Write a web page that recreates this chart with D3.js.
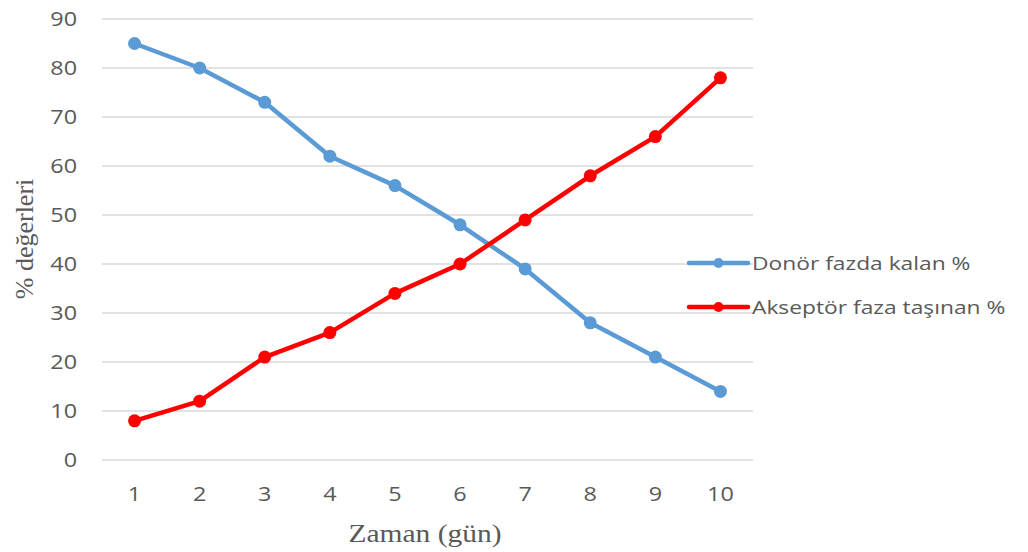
<!DOCTYPE html>
<html>
<head>
<meta charset="utf-8">
<script src="https://cdn.jsdelivr.net/npm/d3@7"></script>
<style>
  html, body { margin: 0; padding: 0; background: #fff; }
  svg { display: block; }
</style>
</head>
<body>
<svg id="chart" width="1028" height="552"></svg>
<script>
// Days of measurement
const days = [1, 2, 3, 4, 5, 6, 7, 8, 9, 10];
// Percentage remaining in the donor phase
const donorValues = [85, 80, 73, 62, 56, 48, 39, 28, 21, 14];
// Percentage transported to the acceptor phase
const acceptorValues = [8, 12, 21, 26, 34, 40, 49, 58, 66, 78];
// Y axis ticks
const yTicks = [0, 10, 20, 30, 40, 50, 60, 70, 80, 90];
const seriesNames = ["Donör fazda kalan %", "Akseptör faza taşınan %"];
const seriesColors = ["#5B9BD5", "#FF0000"];

const svg = d3.select("#chart");
const plot = { left: 102, right: 753, top: 19, bottom: 460 };

const x = d3.scaleBand().domain(days).range([plot.left, plot.right]);
const y = d3.scaleLinear().domain([0, 90]).range([plot.bottom, plot.top]);

const labelFont = "'Open Sans', 'Noto Sans', sans-serif";
const serifFont = "'Liberation Serif', 'Times New Roman', serif";
const grey = "#595959";
const wide = "scale(1.17,1)";

// Horizontal gridlines
svg.append("g")
  .selectAll("line")
  .data(yTicks)
  .join("line")
  .attr("x1", plot.left).attr("x2", plot.right)
  .attr("y1", d => y(d)).attr("y2", d => y(d))
  .attr("stroke", "#d9d9d9").attr("stroke-width", 1.3);

// Y tick labels
const yAxis = d3.axisLeft(y).tickValues(yTicks).tickSize(0).tickPadding(0);
const gy = svg.append("g").attr("transform", "translate(77,0)").call(yAxis);
gy.select(".domain").remove();
gy.selectAll("text")
  .attr("font-family", labelFont).attr("font-size", 20).attr("fill", grey)
  .attr("transform", wide);

// X tick labels
const xAxis = d3.axisBottom(x).tickSize(0).tickPadding(0);
const gx = svg.append("g").attr("transform", "translate(0,487)").call(xAxis);
gx.select(".domain").remove();
gx.selectAll("text")
  .attr("font-family", labelFont).attr("font-size", 20).attr("fill", grey)
  .attr("transform", wide);

// Axis titles
svg.append("g").attr("transform", "translate(425,542) scale(1.18,1)")
  .append("text")
  .attr("text-anchor", "middle")
  .attr("font-family", serifFont)
  .attr("font-size", 25).attr("fill", grey)
  .text("Zaman (gün)");

svg.append("text")
  .attr("transform", "translate(33,239) rotate(-90)")
  .attr("text-anchor", "middle")
  .attr("font-family", serifFont)
  .attr("font-size", 26).attr("fill", grey)
  .text("% değerleri");

// Series lines and markers
const series = [donorValues, acceptorValues];
const line = d3.line()
  .x((d, i) => x(days[i]) + x.bandwidth() / 2)
  .y(d => y(d));

series.forEach((vals, s) => {
  const g = svg.append("g");
  g.append("path")
    .datum(vals)
    .attr("d", line)
    .attr("fill", "none")
    .attr("stroke", seriesColors[s])
    .attr("stroke-width", 4.5)
    .attr("stroke-linejoin", "round")
    .attr("stroke-linecap", "round");
  g.selectAll("circle")
    .data(vals)
    .join("circle")
    .attr("cx", (d, i) => x(days[i]) + x.bandwidth() / 2)
    .attr("cy", d => y(d))
    .attr("r", 6.5)
    .attr("fill", seriesColors[s]);
});

// Legend
const legendY = [263, 307];
seriesNames.forEach((name, s) => {
  const g = svg.append("g").attr("transform", `translate(0,${legendY[s]})`);
  g.append("line")
    .attr("x1", 689).attr("x2", 748)
    .attr("stroke", seriesColors[s]).attr("stroke-width", 4.5)
    .attr("stroke-linecap", "round");
  g.append("circle").attr("cx", 718.5).attr("cy", 0).attr("r", 5)
    .attr("fill", seriesColors[s]);
  g.append("g").attr("transform", "translate(752,0) scale(1.2,1)")
    .append("text")
    .attr("dy", "0.35em")
    .attr("font-family", labelFont).attr("font-size", 19).attr("fill", grey)
    .text(name);
});
</script>
</body>
</html>
